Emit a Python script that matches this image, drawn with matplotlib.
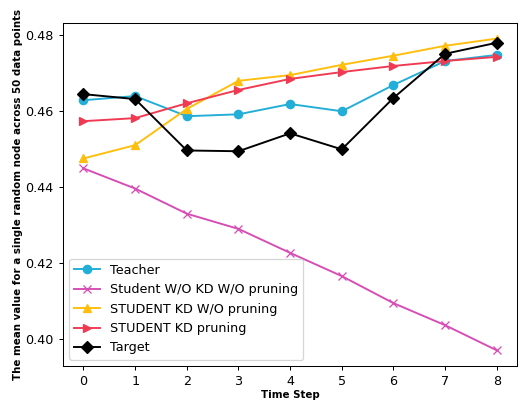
import matplotlib
matplotlib.use('Agg')
import matplotlib.pyplot as plt

steps = [0, 1, 2, 3, 4, 5, 6, 7, 8]
teacher = [0.4628, 0.4639, 0.4586, 0.4591, 0.4618, 0.4599, 0.4668, 0.4731, 0.4747]
student_no_kd = [0.4449, 0.4396, 0.4330, 0.4290, 0.4227, 0.4166, 0.4095, 0.4037, 0.3971]
student_kd_no_prune = [0.4475, 0.4510, 0.4605, 0.4679, 0.4694, 0.4721, 0.4745, 0.4771, 0.4790]
student_kd_prune = [0.4573, 0.4581, 0.4620, 0.4655, 0.4684, 0.4702, 0.4718, 0.4731, 0.4742]
target = [0.4644, 0.4631, 0.4496, 0.4494, 0.4541, 0.4499, 0.4634, 0.4750, 0.4779]

dpi = 92
fig, ax = plt.subplots(figsize=(519 / dpi, 403 / dpi), dpi=dpi)
fig.subplots_adjust(left=0.121, right=0.997, top=0.943, bottom=0.092)

ms = 6.5
ax.plot(steps, teacher, marker='o', ms=ms, color='#22aed6', label='Teacher')
ax.plot(steps, student_no_kd, marker='x', ms=ms, color='#d64db5', label='Student W/O KD W/O pruning')
ax.plot(steps, student_kd_no_prune, marker='^', ms=ms, color='#ffbe0b', label='STUDENT KD W/O pruning')
ax.plot(steps, student_kd_prune, marker='>', ms=ms, color='#f03a52', label='STUDENT KD pruning')
ax.plot(steps, target, marker='D', ms=ms, color='black', label='Target')

ax.set_xticks(steps)
ax.set_yticks([0.40, 0.42, 0.44, 0.46, 0.48])
ax.set_xlabel('Time Step', fontsize=8, fontweight='bold', labelpad=2)
ax.set_ylabel('The mean value for a single random node across 50 data points', fontsize=8, fontweight='bold', labelpad=2)
ax.legend(loc='lower left')

plt.savefig('out.png', dpi=dpi)
